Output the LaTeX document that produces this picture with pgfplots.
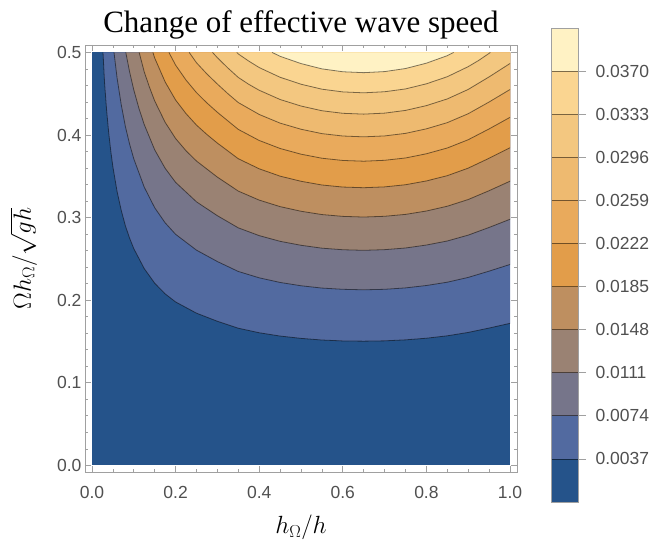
\documentclass[border=0pt]{standalone}
\usepackage{fontspec}
\setmainfont{Liberation Sans}
\newfontfamily\titlefont{Liberation Serif}
\usepackage{pgfplots}
\usepackage{pgfplotstable}
\pgfplotsset{compat=1.18}

\definecolor{c0}{RGB}{37,83,138}
\definecolor{c1}{RGB}{82,106,160}
\definecolor{c2}{RGB}{118,117,138}
\definecolor{c3}{RGB}{154,130,115}
\definecolor{c4}{RGB}{190,143,96}
\definecolor{c5}{RGB}{226,157,74}
\definecolor{c6}{RGB}{233,170,92}
\definecolor{c7}{RGB}{238,186,112}
\definecolor{c8}{RGB}{243,199,128}
\definecolor{c9}{RGB}{250,213,145}
\definecolor{c10}{RGB}{255,242,196}
\definecolor{framegray}{RGB}{160,160,160}
\definecolor{labelgray}{RGB}{80,80,80}

% contour levels k*0.0037; first row = corner used to close the filled region
\pgfplotstableread{
x y
1 0.5
0.0264 0.5
0.03 0.4638
0.035 0.4301
0.04 0.4029
0.045 0.3806
0.05 0.3616
0.06 0.3318
0.07 0.3088
0.08 0.2900
0.09 0.2751
0.10 0.2625
0.125 0.2383
0.15 0.2206
0.175 0.2077
0.20 0.1979
0.25 0.1843
0.30 0.1745
0.35 0.1661
0.40 0.1606
0.45 0.1566
0.50 0.1538
0.55 0.1518
0.60 0.1507
0.65 0.1504
0.70 0.1508
0.75 0.1520
0.80 0.1540
0.85 0.1569
0.90 0.1610
0.95 0.1663
1.00 0.1720
}\kone
\pgfplotstableread{
x y
1 0.5
0.0527 0.5
0.06 0.4692
0.07 0.4367
0.08 0.4101
0.09 0.3890
0.10 0.3712
0.125 0.3369
0.15 0.3120
0.175 0.2937
0.20 0.2798
0.25 0.2606
0.30 0.2468
0.35 0.2348
0.40 0.2271
0.45 0.2215
0.50 0.2175
0.55 0.2147
0.60 0.2132
0.65 0.2126
0.70 0.2132
0.75 0.2149
0.80 0.2178
0.85 0.2218
0.90 0.2276
0.95 0.2352
1.00 0.2433
}\ktwo
\pgfplotstableread{
x y
1 0.5
0.0809 0.5
0.09 0.4765
0.10 0.4546
0.1125 0.4320
0.125 0.4127
0.15 0.3821
0.175 0.3597
0.20 0.3427
0.25 0.3191
0.30 0.3023
0.35 0.2876
0.40 0.2782
0.45 0.2713
0.50 0.2665
0.55 0.2630
0.60 0.2611
0.65 0.2604
0.70 0.2612
0.75 0.2632
0.80 0.2668
0.85 0.2717
0.90 0.2788
0.95 0.2881
1.00 0.2980
}\kthree
\pgfplotstableread{
x y
1 0.5
0.1129 0.5
0.125 0.4765
0.1375 0.4579
0.15 0.4413
0.175 0.4154
0.20 0.3958
0.225 0.3809
0.25 0.3685
0.30 0.3490
0.35 0.3321
0.40 0.3212
0.45 0.3133
0.50 0.3077
0.55 0.3037
0.60 0.3015
0.65 0.3007
0.70 0.3016
0.75 0.3039
0.80 0.3080
0.85 0.3138
0.90 0.3219
0.95 0.3326
1.00 0.3441
}\kfour
\pgfplotstableread{
x y
1 0.5
0.1458 0.5
0.15 0.4933
0.175 0.4643
0.20 0.4424
0.225 0.4259
0.25 0.4120
0.275 0.4006
0.30 0.3902
0.35 0.3713
0.40 0.3591
0.45 0.3502
0.50 0.3440
0.55 0.3395
0.60 0.3370
0.65 0.3362
0.70 0.3372
0.75 0.3398
0.80 0.3444
0.85 0.3508
0.90 0.3599
0.95 0.3719
1.00 0.3846
}\kfive
\pgfplotstableread{
x y
1 0.5
0.184 0.5
0.20 0.4847
0.225 0.4665
0.25 0.4513
0.275 0.4388
0.30 0.4275
0.35 0.4068
0.40 0.3934
0.45 0.3837
0.50 0.3768
0.55 0.3719
0.60 0.3692
0.65 0.3683
0.70 0.3694
0.75 0.3722
0.80 0.3773
0.85 0.3843
0.90 0.3943
0.95 0.4074
1.00 0.4214
}\ksix
\pgfplotstableread{
x y
1 0.5
0.2326 0.5
0.25 0.4875
0.275 0.4739
0.30 0.4617
0.325 0.4501
0.35 0.4393
0.40 0.4249
0.45 0.4144
0.50 0.4070
0.55 0.4017
0.60 0.3988
0.65 0.3978
0.70 0.3989
0.75 0.4020
0.80 0.4075
0.85 0.4150
0.90 0.4258
0.95 0.4400
1.00 0.4551
}\kseven
\pgfplotstableread{
x y
1 0.5
0.2884 0.5
0.30 0.4936
0.325 0.4812
0.35 0.4697
0.375 0.4614
0.40 0.4542
0.45 0.4430
0.50 0.4351
0.55 0.4294
0.60 0.4263
0.65 0.4253
0.70 0.4265
0.75 0.4298
0.80 0.4356
0.85 0.4437
0.90 0.4552
0.95 0.4704
1.00 0.4866
}\keight
\pgfplotstableread{
x y
0.953 0.5
0.3464 0.5
0.35 0.4982
0.375 0.4895
0.40 0.4817
0.45 0.4699
0.50 0.4615
0.55 0.4555
0.60 0.4522
0.65 0.4511
0.70 0.4524
0.75 0.4558
0.80 0.4620
0.85 0.4706
0.90 0.4828
0.925 0.4903
0.95 0.4989
0.953 0.5
}\knine
\pgfplotstableread{
x y
0.865 0.5
0.431 0.5
0.45 0.4953
0.50 0.4865
0.55 0.4801
0.60 0.4766
0.65 0.4755
0.70 0.4768
0.75 0.4805
0.80 0.4870
0.85 0.4961
0.865 0.5
}\kten

\pgfplotsset{
  band/.style={fill=#1, draw=none},
  cline/.style={black, opacity=0.5, line width=0.8pt, skip coords between index={0}{1}},
}

\begin{document}
\begin{tikzpicture}
\path[use as bounding box] (-85pt,-85pt) rectangle (579pt,472pt);
\begin{axis}[
    at={(0,0)}, anchor=south west,
    scale only axis, width=432pt, height=427pt,
    xmin=-0.0167, xmax=1.0167, ymin=-0.008, ymax=0.509,
    xtick={0,0.2,0.4,0.6,0.8,1},
    xticklabels={0.0,0.2,0.4,0.6,0.8,1.0},
    ytick={0,0.1,0.2,0.3,0.4,0.5},
    yticklabels={0.0,0.1,0.2,0.3,0.4,0.5},
    minor x tick num=3, minor y tick num=4,
    tick align=inside,
    major tick length=6pt, minor tick length=3.5pt,
    axis line style={framegray, line width=0.8pt},
    tick style={framegray, line width=0.7pt},
    ticklabel style={font=\fontsize{17.5}{20}\selectfont, text=labelgray},
    xticklabel style={yshift=-11pt},
    axis on top,
    title={\titlefont\fontsize{31}{35}\selectfont Change of effective wave speed},
    title style={at={(axis description cs:0.5,1.032)}, anchor=center},
    xlabel={$h_\Omega/h$},
    xlabel style={font=\fontsize{27}{30}\selectfont, at={(axis description cs:0.5,-0.129)}, anchor=center},
    ylabel={$\Omega h_\Omega/\sqrt{gh}$},
    ylabel style={font=\fontsize{27}{30}\selectfont, at={(axis description cs:-0.142,0.5)}, anchor=center},
]
\addplot[band=c0] coordinates {(0,0) (1,0) (1,0.5) (0,0.5)};
\addplot[band=c1] table {\kone};
\addplot[band=c2] table {\ktwo};
\addplot[band=c3] table {\kthree};
\addplot[band=c4] table {\kfour};
\addplot[band=c5] table {\kfive};
\addplot[band=c6] table {\ksix};
\addplot[band=c7] table {\kseven};
\addplot[band=c8] table {\keight};
\addplot[band=c9] table {\knine};
\addplot[band=c10] table {\kten};
\addplot[cline] table {\kone};
\addplot[cline] table {\ktwo};
\addplot[cline] table {\kthree};
\addplot[cline] table {\kfour};
\addplot[cline] table {\kfive};
\addplot[cline] table {\ksix};
\addplot[cline] table {\kseven};
\addplot[cline] table {\keight};
\addplot[cline] table {\knine};
\addplot[cline] table {\kten};
\end{axis}

% colour bar
\begin{axis}[
    at={(466pt,-30pt)}, anchor=south west,
    scale only axis, width=27pt, height=474pt,
    xmin=0, xmax=1, ymin=0, ymax=11,
    xtick=\empty,
    ytick={1,2,3,4,5,6,7,8,9,10},
    yticklabels={0.0037,0.0074,0.0111,0.0148,0.0185,0.0222,0.0259,0.0296,0.0333,0.0370},
    ytick pos=right, yticklabel pos=right,
    tick align=outside, major tick length=8pt,
    axis line style={framegray, line width=0.6pt},
    tick style={framegray, line width=0.7pt},
    yticklabel style={font=\fontsize{17.5}{20}\selectfont, text=labelgray, xshift=6pt},
    ymajorgrids, major grid style={black, opacity=0.5, line width=0.8pt},
    axis on top,
]
\addplot[band=c0]  coordinates {(0,0) (1,0) (1,1) (0,1)};
\addplot[band=c1]  coordinates {(0,1) (1,1) (1,2) (0,2)};
\addplot[band=c2]  coordinates {(0,2) (1,2) (1,3) (0,3)};
\addplot[band=c3]  coordinates {(0,3) (1,3) (1,4) (0,4)};
\addplot[band=c4]  coordinates {(0,4) (1,4) (1,5) (0,5)};
\addplot[band=c5]  coordinates {(0,5) (1,5) (1,6) (0,6)};
\addplot[band=c6]  coordinates {(0,6) (1,6) (1,7) (0,7)};
\addplot[band=c7]  coordinates {(0,7) (1,7) (1,8) (0,8)};
\addplot[band=c8]  coordinates {(0,8) (1,8) (1,9) (0,9)};
\addplot[band=c9]  coordinates {(0,9) (1,9) (1,10) (0,10)};
\addplot[band=c10] coordinates {(0,10) (1,10) (1,11) (0,11)};
\end{axis}
\end{tikzpicture}
\end{document}
